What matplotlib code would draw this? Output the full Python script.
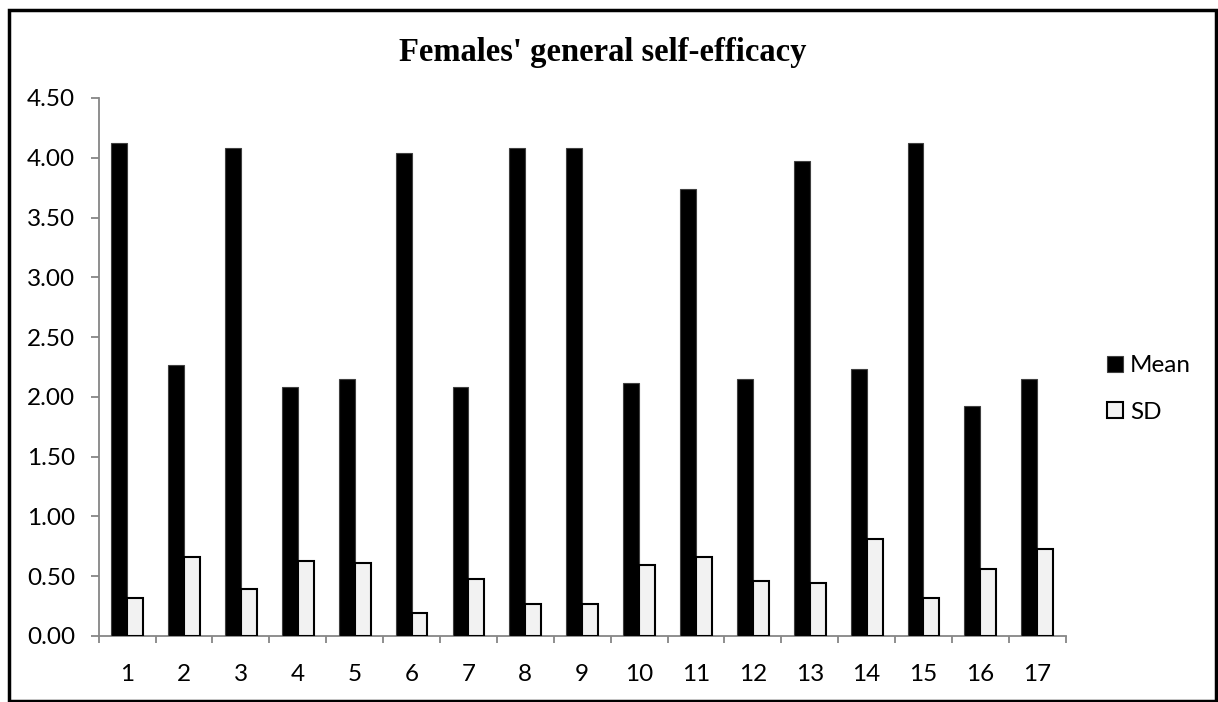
import numpy as np
import matplotlib.pyplot as plt
from matplotlib.patches import Rectangle

# item numbers and their scores
items = [str(i) for i in range(1, 18)]
mean = [4.12, 2.27, 4.08, 2.08, 2.15, 4.04, 2.08, 4.08, 4.08,
        2.12, 3.74, 2.15, 3.97, 2.23, 4.12, 1.92, 2.15]
sd = [0.32, 0.66, 0.39, 0.63, 0.61, 0.19, 0.48, 0.27, 0.27,
      0.59, 0.66, 0.46, 0.44, 0.81, 0.32, 0.56, 0.73]
yticks = [0.0, 0.5, 1.0, 1.5, 2.0, 2.5, 3.0, 3.5, 4.0, 4.5]

W, H = 1218, 702
fig = plt.figure(figsize=(W / 100, H / 100), dpi=100)
ax = fig.add_axes([98.7 / W, 1 - 636 / H, (1065.7 - 98.7) / W, (636 - 98) / H])

x = np.arange(1, len(items) + 1)
bw = 0.28
ax.bar(x - bw / 2, mean, bw, color='black', edgecolor='#404040', linewidth=0.8, label='Mean', zorder=3)
ax.bar(x + bw / 2, sd, bw, color='#f2f2f2', edgecolor='black', linewidth=1.5, label='SD', zorder=3)

ax.set_xlim(0.5, len(items) + 0.5)
ax.set_ylim(0, 4.5)
ax.set_yticks(yticks)
ax.set_yticklabels([f'{v:.2f}' for v in yticks])
ax.set_xticks(x)
ax.set_xticklabels(items)
ax.set_xticks(np.arange(0.5, len(items) + 1), minor=True)

grey = '#868686'
for s in ['top', 'right']:
    ax.spines[s].set_visible(False)
for s in ['left', 'bottom']:
    ax.spines[s].set_color(grey)
    ax.spines[s].set_linewidth(1.3)

fs = 17.5
ax.tick_params(axis='y', direction='out', length=6, width=1.3, color=grey, pad=11, labelsize=fs)
ax.tick_params(axis='x', which='major', length=0, pad=20, labelsize=fs)
ax.tick_params(axis='x', which='minor', direction='out', length=5, width=1.3, color=grey)
for lab in ax.get_xticklabels() + ax.get_yticklabels():
    lab.set_fontfamily('Lato')

fig.text(603 / W, 1 - 52 / H, "Females' general self-efficacy", ha='center', va='center',
         fontsize=23.5, fontweight='bold', family='Liberation Serif')

leg = fig.legend(loc='center left', bbox_to_anchor=(1085 / W, 1 - 389 / H), frameon=False,
                 prop={'family': 'Lato', 'size': fs}, handlelength=0.65, handleheight=0.65,
                 handletextpad=0.3, labelspacing=1.05)

# outer frame around the whole chart
fig.patches.append(Rectangle((8.5 / W, 1.5 / H), (1216 - 8.5) / W, (700 - 9) / H,
                             transform=fig.transFigure, fill=False, edgecolor='black',
                             linewidth=2.5))

fig.savefig('out.png', dpi=100)
